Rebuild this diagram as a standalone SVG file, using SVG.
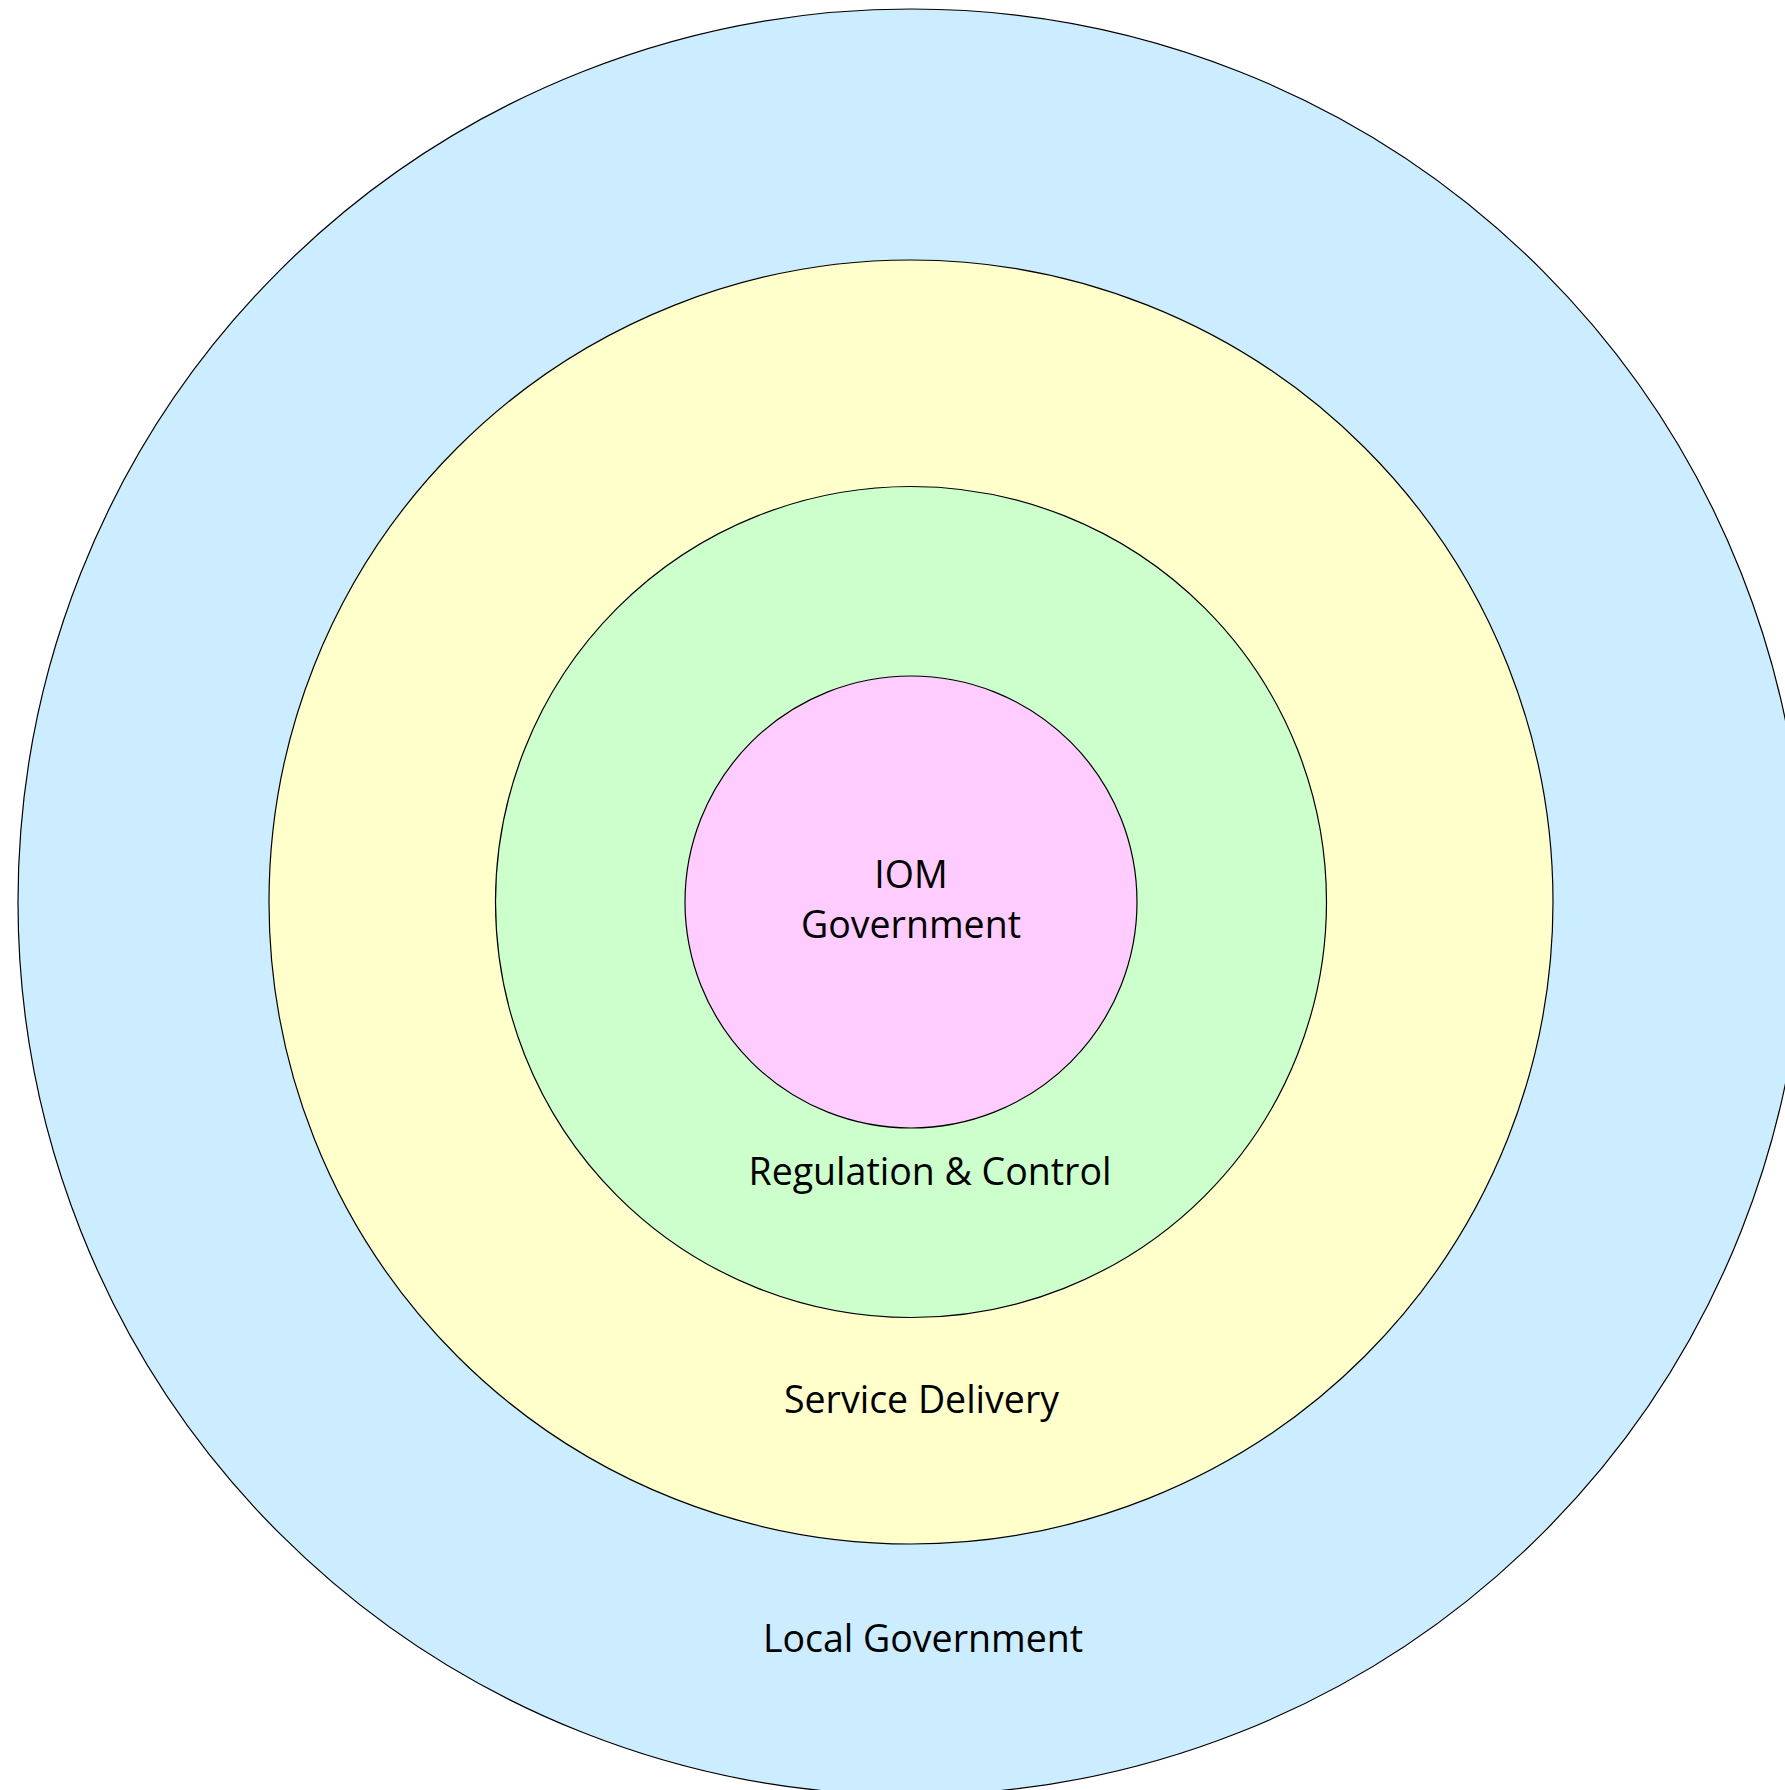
<svg xmlns="http://www.w3.org/2000/svg" width="1785" height="1790" viewBox="0 0 1785 1790">
<style>
.ring{stroke:#000;stroke-width:1.2}
.lbl{font-family:"Open Sans","Noto Sans","Liberation Sans",sans-serif;font-size:37.5px;fill:#000;text-anchor:middle}
</style>
<rect width="1785" height="1790" fill="#fff"/>
<g id="local-government">
<circle class="ring" cx="911" cy="902" r="893" fill="#CCECFF"/>
<text class="lbl" x="923" y="1652">Local Government</text>
</g>
<g id="service-delivery">
<circle class="ring" cx="911" cy="902" r="642" fill="#FFFFCC"/>
<text class="lbl" x="921.5" y="1413">Service Delivery</text>
</g>
<g id="regulation-control">
<circle class="ring" cx="911" cy="902" r="415.5" fill="#CCFFCC"/>
<text class="lbl" x="930" y="1185">Regulation &amp; Control</text>
</g>
<g id="iom-government">
<circle class="ring" cx="911" cy="902" r="226" fill="#FFCCFF"/>
<text class="lbl" x="911" y="888">IOM</text>
<text class="lbl" x="911" y="938">Government</text>
</g>
<g id="connectors"/>
</svg>
